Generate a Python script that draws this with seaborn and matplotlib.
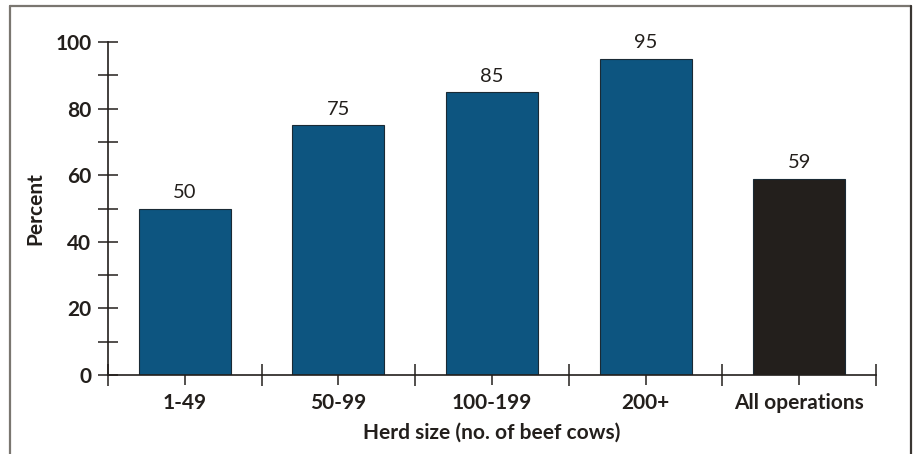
import matplotlib
matplotlib.use("Agg")
import matplotlib.pyplot as plt
from matplotlib.lines import Line2D
from matplotlib.ticker import MultipleLocator, FixedLocator
import seaborn as sns
import pandas as pd

categories = ["1-49", "50-99", "100-199", "200+", "All operations"]
percent = [50, 75, 85, 95, 59]
bar_colors = ["#0d5580", "#0d5580", "#0d5580", "#0d5580", "#231f1c"]

sns.set_style("white")
plt.rcParams["font.family"] = ["Lato", "DejaVu Sans"]

df = pd.DataFrame({"herd": categories, "pct": percent})

W, H = 913, 454
fig = plt.figure(figsize=(W / 100, H / 100), dpi=100)
ax = fig.add_axes([108 / W, 79 / H, (876 - 108) / W, (375 - 42) / H])

sns.barplot(data=df, x="herd", y="pct", hue="herd", palette=bar_colors,
            legend=False, width=0.6, saturation=1, ax=ax,
            edgecolor="#1a2a35", linewidth=0.8)

ax.set_xlim(-0.5, len(categories) - 0.5)
ax.set_ylim(0, 100)

for i, v in enumerate(percent):
    ax.text(i, v + 2.2, f"{v}", ha="center", va="bottom",
            fontsize=14.5, color="#231f1c", clip_on=False)

for s in ["top", "right"]:
    ax.spines[s].set_visible(False)
for s in ["left", "bottom"]:
    ax.spines[s].set_color("#231f1c")
    ax.spines[s].set_linewidth(1.2)

ax.yaxis.set_major_locator(MultipleLocator(20))
ax.yaxis.set_minor_locator(MultipleLocator(10))
ax.tick_params(axis="y", which="both", direction="inout", length=14,
               width=1.1, color="#231f1c", left=True, pad=5)
ax.tick_params(axis="y", which="major", labelsize=15, labelcolor="#231f1c")
for lab in ax.get_yticklabels():
    lab.set_fontweight("bold")

ax.xaxis.set_minor_locator(FixedLocator([i - 0.5 for i in range(len(categories) + 1)]))
ax.tick_params(axis="x", which="minor", direction="inout", length=16,
               width=1.1, color="#231f1c", bottom=True)
ax.tick_params(axis="x", which="major", direction="out", length=7,
               width=1.1, color="#231f1c", bottom=True, pad=6,
               labelsize=15, labelcolor="#231f1c")
for lab in ax.get_xticklabels():
    lab.set_fontweight("bold")

ax.set_xlabel("Herd size (no. of beef cows)", fontsize=15, fontweight="bold",
              color="#231f1c", labelpad=7)
ax.set_ylabel("Percent", fontsize=15, fontweight="bold", color="#231f1c",
              labelpad=7)

# outer frame: left, top and right edges
frame_color = "#7a7670"
fig.add_artist(Line2D([9.5 / W, 9.5 / W], [0, 1 - 6 / H], transform=fig.transFigure,
                      color=frame_color, lw=1.6))
fig.add_artist(Line2D([9.5 / W, 910.5 / W], [1 - 6 / H, 1 - 6 / H],
                      transform=fig.transFigure, color=frame_color, lw=1.6))
fig.add_artist(Line2D([910.5 / W, 910.5 / W], [0, 1 - 6 / H], transform=fig.transFigure,
                      color="#3a3632", lw=1.6))

fig.savefig("out.png", dpi=100)
